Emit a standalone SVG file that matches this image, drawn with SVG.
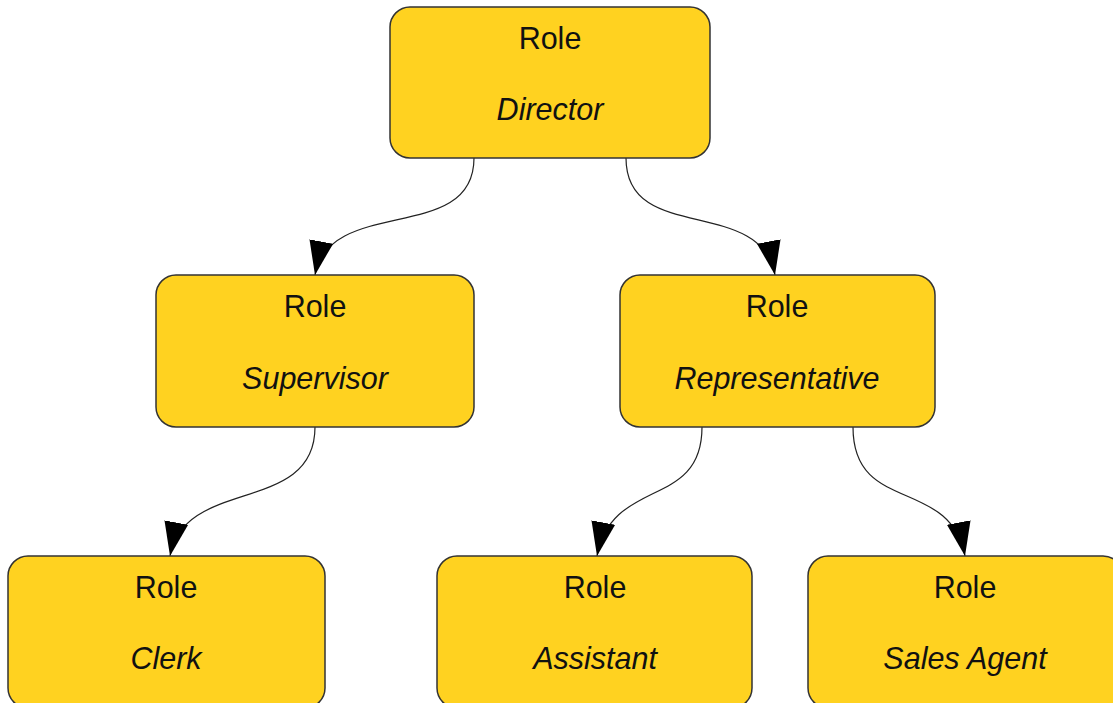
<svg xmlns="http://www.w3.org/2000/svg" width="1113" height="703" viewBox="0 0 1113 703">
<style>
.node{fill:#FFD220;stroke:#333;stroke-width:1.5}
.t{font-family:"Liberation Sans",Arial,sans-serif;font-size:30.5px;fill:#111;text-anchor:middle}
.i{font-style:italic}
.edge{fill:none;stroke:#222;stroke-width:1.2}
</style>
<defs>
<marker id="arr" markerUnits="userSpaceOnUse" markerWidth="36" markerHeight="26" refX="34" refY="12" orient="auto">
<path d="M0,0 L34,12 L0,24 z" fill="#000"/>
</marker>
</defs>
<rect width="1113" height="703" fill="#fff"/>
<g id="connectors">
<path class="edge" d="M474,158 C474,245 330,195 315,275" marker-end="url(#arr)"/>
<path class="edge" d="M626,158 C626,245 760,195 775,275" marker-end="url(#arr)"/>
<path class="edge" d="M315,427 C315,515 185,476 170,556" marker-end="url(#arr)"/>
<path class="edge" d="M702,427 C702,510 612,476 597,556" marker-end="url(#arr)"/>
<path class="edge" d="M853,427 C853,515 950,476 965,556" marker-end="url(#arr)"/>
</g>
<g id="director">
<rect class="node" x="390" y="7" width="320" height="151" rx="20"/>
<text class="t" x="550" y="49">Role</text>
<text class="t i" x="550" y="120">Director</text>
</g>
<g id="supervisor">
<rect class="node" x="156" y="275" width="318" height="152" rx="20"/>
<text class="t" x="315" y="317">Role</text>
<text class="t i" x="315" y="389">Supervisor</text>
</g>
<g id="representative">
<rect class="node" x="620" y="275" width="315" height="152" rx="20"/>
<text class="t" x="777" y="317">Role</text>
<text class="t i" x="777" y="389">Representative</text>
</g>
<g id="clerk">
<rect class="node" x="8" y="556" width="317" height="152" rx="20"/>
<text class="t" x="166" y="598">Role</text>
<text class="t i" x="166" y="669">Clerk</text>
</g>
<g id="assistant">
<rect class="node" x="437" y="556" width="315" height="152" rx="20"/>
<text class="t" x="595" y="598">Role</text>
<text class="t i" x="595" y="669">Assistant</text>
</g>
<g id="salesagent">
<rect class="node" x="808" y="556" width="315" height="152" rx="20"/>
<text class="t" x="965" y="598">Role</text>
<text class="t i" x="965" y="669">Sales Agent</text>
</g>
</svg>
